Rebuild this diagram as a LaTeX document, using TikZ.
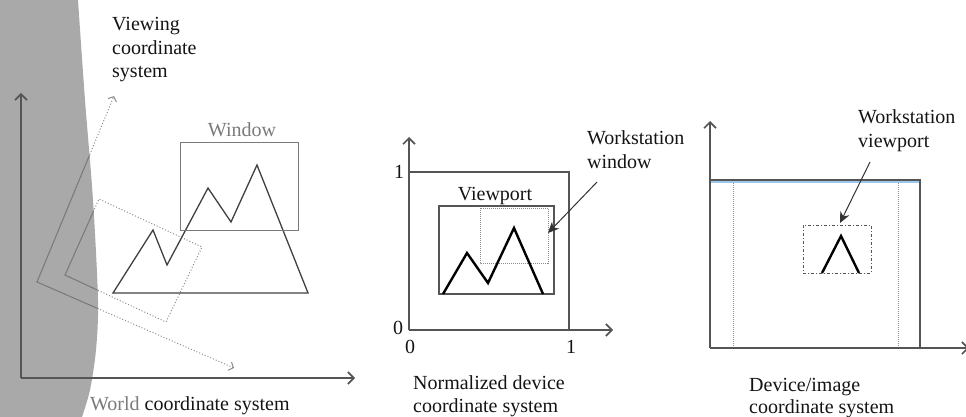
\documentclass[tikz,border=0pt]{standalone}
\usepackage{fontspec}
\setmainfont{Liberation Serif}
\usetikzlibrary{arrows.meta}

\definecolor{zonegray}{HTML}{A9A9A9}
\definecolor{ink}{HTML}{141414}
\definecolor{axisgray}{HTML}{555555}
\definecolor{softgray}{HTML}{7A7A7A}
\definecolor{dotgray}{HTML}{8C8C8C}
\definecolor{edgeblue}{HTML}{9EC5EA}

\begin{document}
\begin{tikzpicture}[x=1pt,y=-1pt,
  lbl/.style={font=\fontsize{20}{23.5}\selectfont, inner sep=0pt, text=ink},
  axisline/.style={draw=axisgray, line width=1.4pt,
    -{Straight Barb[length=6pt,width=12pt,line width=1.6pt]}},
  thinbox/.style={draw=softgray, line width=1pt},
  framebox/.style={draw=axisgray, line width=1.3pt},
  viewdots/.style={draw=dotgray, line width=1pt, dotted},
  viewsolid/.style={draw=softgray, line width=1pt},
  viewaxis/.style={-{Straight Barb[length=4pt,width=9pt,line width=1pt]}},
  mountain/.style={draw=black!75, line width=1.3pt, line join=miter},
  boldpeak/.style={draw=black, line width=2.4pt, line join=miter},
  pointer/.style={draw=black!80, line width=1pt, -{Stealth[length=11pt,width=10pt]}},
  fence/.style={draw=dotgray, line width=1pt, densely dotted},
]
\useasboundingbox (0,0) rectangle (966,417);

% ---------- world coordinates ----------
% shaded region on the left
\fill[zonegray] (0,0) -- plot[smooth] coordinates
  {(78,0) (85,100) (93,200) (98,300) (96,350) (90,390) (82,417)} -- (0,417) -- cycle;

% world axes
\coordinate (wo) at (21,378);
\coordinate (wy) at (21,93);
\coordinate (wx) at (355,378);
\draw[axisline] (wo) -- (wy);
\draw[axisline] (wo) -- (wx);

% viewing coordinate axes and rotated window
\coordinate (vo) at (37,282);
\coordinate (vy) at (114,96);
\coordinate (vx) at (234,368);
\coordinate (rbl) at (65,275);
\coordinate (rtl) at (99,199);
\coordinate (rtr) at (202,247);
\coordinate (rbr) at (166,322);
\draw[viewdots, viewaxis] (vo) -- (vy);
\draw[viewdots, viewaxis] (vo) -- (vx);
\draw[viewdots] (rbl) -- (rtl) -- (rtr) -- (rbr) -- cycle;
\begin{scope}
  % inside the shaded region the same lines are drawn solid
  \clip (0,0) -- plot[smooth] coordinates
    {(78,0) (85,100) (93,200) (98,300) (96,350) (90,390) (82,417)} -- (0,417) -- cycle;
  \draw[viewsolid] (vy) -- (vo) -- (vx);
  \draw[viewsolid] (rtl) -- (rbl) -- (rbr);
\end{scope}

% scene and window
\draw[mountain] (113,293) -- (153,230) -- (167,265) -- (208,188)
  -- (231,222) -- (257,165) -- (308,293) -- cycle;
\node[thinbox, minimum width=118pt, minimum height=87pt, inner sep=0pt]
  (win) at (239,186.5) {};
\node[lbl, text=softgray, anchor=base] (winlbl) at (242,136) {Window};

\node[lbl, anchor=base west] (vc1) at (112,31) {Viewing};
\node[lbl, anchor=base west] (vc2) at (112,54.5) {coordinate};
\node[lbl, anchor=base west] (vc3) at (112,78) {system};
\node[lbl, anchor=base west] (wcs) at (90,410)
  {{\color{softgray}World} coordinate system};

% ---------- normalized device coordinates ----------
\coordinate (no) at (409,330);
\coordinate (ny) at (409,137);
\coordinate (nx) at (613,330);
\draw[axisline] (no) -- (ny);
\draw[axisline] (no) -- (nx);
\draw[framebox] (409,172) -- (569,172) -- (569,330);
\node[framebox, minimum width=115pt, minimum height=88pt, inner sep=0pt]
  (vp) at (496.5,250) {};
\draw[fence] (480,208) rectangle (548,263);
\draw[boldpeak] (443,294) -- (467,253) -- (488,283) -- (514,228) -- (543,294);
\node[lbl, anchor=base] (vplbl) at (495,200) {Viewport};

\node[lbl] (n1y) at (399,172) {1};
\node[lbl] (n0y) at (398,328) {0};
\node[lbl] (n0x) at (410,347) {0};
\node[lbl] (n1x) at (571,347) {1};

\node[lbl, anchor=base west] (ww1) at (587,144) {Workstation};
\node[lbl, anchor=base west] (ww2) at (587,168) {window};
\coordinate (wwtail) at (597,182);
\coordinate (wwtip) at (548,233);
\draw[pointer] (wwtail) -- (wwtip);

\node[lbl, anchor=base west] (nd1) at (413,389) {Normalized device};
\node[lbl, anchor=base west] (nd2) at (413,412) {coordinate system};

% ---------- device coordinates ----------
\coordinate (do) at (710,348);
\coordinate (dy) at (710,121);
\coordinate (dx) at (969,348);
\draw[edgeblue, line width=1.2pt] (711,182) -- (919,182);
\draw[fence] (733,183) -- (733,347);
\draw[fence] (898,183) -- (898,347);
\draw[axisline] (do) -- (dy);
\draw[axisline] (do) -- (dx);
\draw[framebox] (710,180) -- (920,180);
\draw[draw=axisgray, line width=2.6pt] (920,179) -- (920,348);
\node[draw=axisgray, line width=1pt, dash dot, minimum width=68pt,
  minimum height=48pt, inner sep=0pt] (wvp) at (837,249) {};
\draw[boldpeak] (822,273) -- (841,236) -- (859,273);

\node[lbl, anchor=base west] (wv1) at (858,124) {Workstation};
\node[lbl, anchor=base west] (wv2) at (858,147) {viewport};
\coordinate (wvtail) at (870,162);
\coordinate (wvtip) at (840,223);
\draw[pointer] (wvtail) -- (wvtip);

\node[lbl, anchor=base west] (dd1) at (749,391) {Device/image};
\node[lbl, anchor=base west] (dd2) at (749,413) {coordinate system};
\end{tikzpicture}
\end{document}
